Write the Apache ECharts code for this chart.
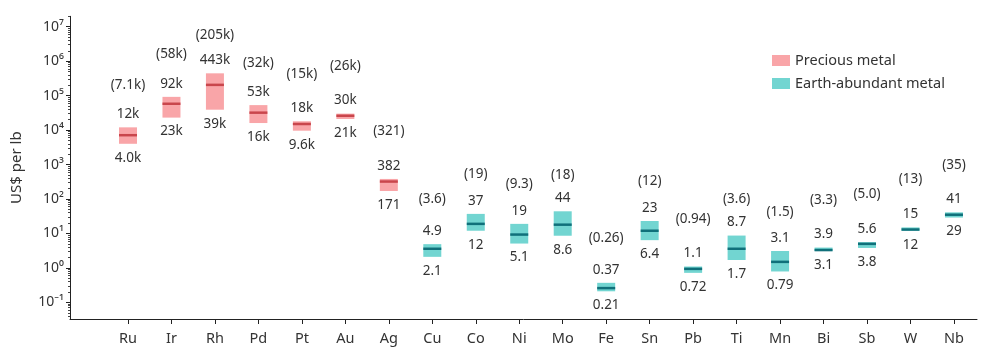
<!DOCTYPE html>
<html>
<head>
<meta charset="utf-8">
<script src="https://cdn.jsdelivr.net/npm/echarts@6/dist/echarts.min.js"></script>
<style>
  html, body { margin: 0; padding: 0; background: #fff; }
  #chart { width: 997px; height: 354px; }
</style>
</head>
<body>
<div id="chart"></div>
<script>
// metal price ranges, US$ per lb
const metals = ["Ru", "Ir", "Rh", "Pd", "Pt", "Au", "Ag", "Cu", "Co", "Ni", "Mo", "Fe", "Sn", "Pb", "Ti", "Mn", "Bi", "Sb", "W", "Nb"];
const groups = ["p", "p", "p", "p", "p", "p", "p", "e", "e", "e", "e", "e", "e", "e", "e", "e", "e", "e", "e", "e"];
const minPrice = [4000, 23000, 39000, 16000, 9600, 21000, 171, 2.1, 12, 5.1, 8.6, 0.21, 6.4, 0.72, 1.7, 0.79, 3.1, 3.8, 12, 29];
const maxPrice = [12000, 92000, 443000, 53000, 18000, 30000, 382, 4.9, 37, 19, 44, 0.37, 23, 1.1, 8.7, 3.1, 3.9, 5.6, 15, 41];
const medianPrice = [7100, 58000, 205000, 32000, 15000, 26000, 321, 3.6, 19, 9.3, 18, 0.26, 12, 0.94, 3.6, 1.5, 3.3, 5.0, 13, 35];
const yTicks = [0.1, 1, 10, 100, 1000, 10000, 100000, 1000000, 10000000];

const FONT = '"Noto Sans", "DejaVu Sans", sans-serif';
const TXT = "#333";

const SUP = { "0": "⁰", "1": "¹", "2": "²", "3": "³", "4": "⁴", "5": "⁵", "6": "⁶", "7": "⁷", "8": "⁸", "9": "⁹", "-": "⁻" };
function sup(v) {
    const e = String(Math.round(Math.log10(v)));
    return "10" + e.split("").map(c => SUP[c]).join("");
}

function fmt(v) {
    if (v >= 1000) {
        const k = v / 1000;
        return (k >= 10 ? String(Math.round(k)) : k.toFixed(1)) + "k";
    }
    if (v >= 10) return String(Math.round(v));
    if (v >= 1) return v.toFixed(1);
    return v.toPrecision(2);
}

// minor log ticks 2..9 x 10^n
const minorTicks = [];
for (let e = -2; e <= 7; e++) {
    for (let k = 2; k <= 9; k++) {
        const v = k * Math.pow(10, e);
        if (v >= 0.033 && v <= 2e7) minorTicks.push(v);
    }
}

const colors = {
    p: { fill: "#f9a5a8", line: "#c9464c" },
    e: { fill: "#72d5d1", line: "#10707a" }
};

function rowsFor(g) {
    const out = [];
    metals.forEach((m, i) => {
        if (groups[i] === g) out.push([i, minPrice[i], maxPrice[i], medianPrice[i]]);
    });
    return out;
}

function makeRender(g) {
    return function (params, api) {
        const i = api.value(0);
        const top = api.coord([i, api.value(2)]);
        const bot = api.coord([i, api.value(1)]);
        const mid = api.coord([i, api.value(3)]);
        const w = 18;
        const font = "13.5px " + FONT;
        return {
            type: "group",
            children: [
                {
                    type: "rect",
                    shape: { x: top[0] - w / 2, y: top[1], width: w, height: bot[1] - top[1] },
                    style: { fill: colors[g].fill }
                },
                {
                    type: "line",
                    shape: { x1: mid[0] - w / 2, y1: mid[1], x2: mid[0] + w / 2, y2: mid[1] },
                    style: { stroke: colors[g].line, lineWidth: 2.5 }
                },
                {
                    type: "text",
                    style: { text: fmt(api.value(2)), x: top[0], y: top[1] - 13, align: "center", verticalAlign: "middle", fill: TXT, font: font }
                },
                {
                    type: "text",
                    style: { text: fmt(api.value(1)), x: bot[0], y: bot[1] + 14, align: "center", verticalAlign: "middle", fill: TXT, font: font }
                },
                {
                    type: "text",
                    style: { text: "(" + fmt(api.value(3)) + ")", x: mid[0], y: mid[1] - 50, align: "center", verticalAlign: "middle", fill: TXT, font: font }
                }
            ]
        };
    };
}

const chart = echarts.init(document.getElementById("chart"));
chart.setOption({
    animation: false,
    textStyle: { fontFamily: FONT },
    grid: { left: 70, right: 20, top: 16.3, bottom: 35 },
    legend: {
        orient: "vertical",
        left: 767,
        top: 48,
        itemWidth: 18,
        itemHeight: 11,
        itemGap: 8,
        icon: "rect",
        textStyle: { fontSize: 14.5, color: TXT, fontFamily: FONT },
        data: ["Precious metal", "Earth-abundant metal"]
    },
    xAxis: {
        type: "value",
        min: -1.334,
        max: 19.53,
        splitLine: { show: false },
        axisLine: { show: true, onZero: false, lineStyle: { color: "#222", width: 1 } },
        axisTick: { show: true, length: 5, lineStyle: { color: "#222" }, customValues: metals.map((m, i) => i) },
        axisLabel: {
            show: true,
            customValues: metals.map((m, i) => i),
            formatter: v => metals[Math.round(v)],
            fontSize: 14.5,
            color: TXT,
            margin: 12
        }
    },
    yAxis: [
        {
            type: "log",
            logBase: 10,
            min: 0.033,
            max: 2e7,
            name: "US$ per lb",
            nameLocation: "middle",
            nameGap: 46,
            nameTextStyle: { fontSize: 15, color: TXT },
            splitLine: { show: false },
            axisLine: { show: true, onZero: false, lineStyle: { color: "#222" } },
            axisTick: { show: true, length: 4, lineStyle: { color: "#222" }, customValues: yTicks },
            axisLabel: {
                customValues: yTicks,
                formatter: v => sup(v),
                fontSize: 14,
                color: TXT,
                margin: 6
            }
        },
        {
            type: "log",
            logBase: 10,
            min: 0.033,
            max: 2e7,
            position: "left",
            splitLine: { show: false },
            axisLine: { show: false, onZero: false },
            axisTick: { show: true, length: 2, lineStyle: { color: "#444" }, customValues: minorTicks },
            axisLabel: { show: false }
        }
    ],
    series: [
        {
            name: "Precious metal",
            type: "custom",
            itemStyle: { color: colors.p.fill },
            renderItem: makeRender("p"),
            encode: { x: 0, y: [1, 2, 3] },
            data: rowsFor("p")
        },
        {
            name: "Earth-abundant metal",
            type: "custom",
            itemStyle: { color: colors.e.fill },
            renderItem: makeRender("e"),
            encode: { x: 0, y: [1, 2, 3] },
            data: rowsFor("e")
        }
    ]
});
</script>
</body>
</html>
